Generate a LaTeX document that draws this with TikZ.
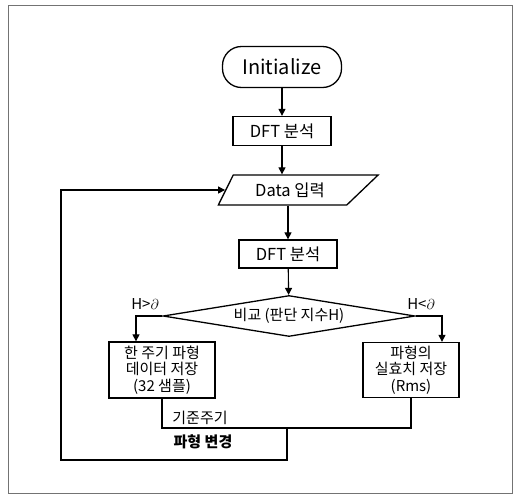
\documentclass[tikz,border=0pt]{standalone}
\usepackage{fontspec}
\usetikzlibrary{positioning,arrows.meta,calc,shapes.geometric}
\newfontfamily\krfont{Noto Sans CJK KR}
\tikzset{
  flowbox/.style={draw, line width=1.3pt, align=center, inner sep=2pt,
    font=\krfont\fontsize{16.5}{18}\selectfont},
  flowterm/.style={flowbox, rounded corners=19pt, font=\krfont\fontsize{20}{22}\selectfont},
  flowio/.style={flowbox, trapezium, trapezium left angle=63, trapezium right angle=137,
    trapezium stretches=true},
  flowdec/.style={flowbox, diamond, aspect=6, inner sep=0pt, font=\krfont\fontsize{15}{16}\selectfont},
  flowsmall/.style={flowbox, font=\krfont\fontsize{15}{16.5}\selectfont},
  flowarrow/.style={-{Triangle[length=7pt,width=7pt]}, line width=1.1pt},
  flowline/.style={line width=1.1pt},
  flowlabel/.style={font=\krfont\fontsize{15}{16}\selectfont, inner sep=0pt},
}

\begin{document}
\begin{tikzpicture}[x=1pt, y=-1pt]
  \useasboundingbox (0,0) rectangle (516,496);
  \draw[line width=0.8pt, black!55] (8,5) rectangle (512,493);

  \node[flowterm, minimum width=119pt, minimum height=41pt] (init) at (282,67) {Initialize};
  \node[flowbox, minimum width=98pt, minimum height=29pt] (dft) at (282,131) {DFT 분석};
  \node[flowio, minimum width=160pt, minimum height=30pt] (data) at (290,190) {Data 입력};
  \node[flowbox, minimum width=98pt, minimum height=28pt] (dftb) at (288,254) {DFT 분석};
  \node[flowdec, minimum width=252pt, minimum height=41pt] (cmp) at (289,316) {비교 (판단 지수H)};
  \node[flowsmall, minimum width=106pt, minimum height=56pt] (save) at (162,370)
    {한 주기 파형\\데이터 저장\\(32 샘플)};
  \node[flowsmall, minimum width=96pt, minimum height=55pt] (rms) at (411,370)
    {파형의\\실효치 저장\\(Rms)};

  \node[flowlabel] (gt) at (145,304) {H>$\partial$};
  \node[flowlabel] (lt) at (421,304) {H<$\partial$};
  \node[flowlabel] (base) at (200,418) {기준주기};
  \node[flowlabel, font=\krfont\bfseries\fontsize{15}{16}\selectfont] (chg) at (203,442) {파형 변경};

  \coordinate (mrg) at (287,428);
  \coordinate (bot) at (287,460);
  \coordinate (lft) at (61,460);

  \draw[flowarrow] (init) -- (dft);
  \draw[flowarrow] (dft.south) -- (dft.south |- data.north);
  \draw[flowarrow] (data.south -| dftb.north) -- (dftb.north);
  \draw[flowarrow] (dftb) -- (cmp);
  \draw[flowarrow] (cmp.west) -| ([xshift=-26pt]save.north);
  \draw[flowarrow] (cmp.east) -| ([xshift=31pt]rms.north);
  \draw[flowline] (save.south) |- (rms.south |- mrg) -- (rms.south);
  \draw[flowarrow] (mrg) -- (bot) -- (lft) |- (data.west);
\end{tikzpicture}
\end{document}
